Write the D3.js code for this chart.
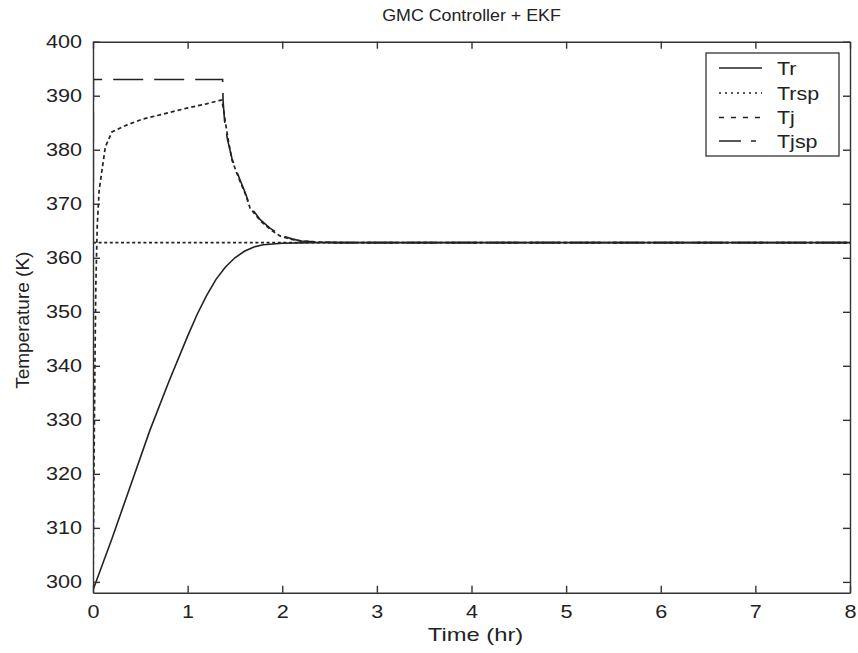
<!DOCTYPE html>
<html>
<head>
<meta charset="utf-8">
<script src="https://cdn.jsdelivr.net/npm/d3@7"></script>
<style>
  html, body { margin: 0; padding: 0; background: #fff; }
  svg { display: block; }
  text { font-family: "Liberation Sans", Arial, sans-serif; fill: #222; }
</style>
</head>
<body>
<svg id="chart" width="858" height="653"></svg>
<script>
// ---------------- data ----------------
const title = "GMC Controller + EKF";
const xLabel = "Time  (hr)";
const yLabel = "Temperature (K)";
const xTicks = [0, 1, 2, 3, 4, 5, 6, 7, 8];
const yTicks = [300, 310, 320, 330, 340, 350, 360, 370, 380, 390, 400];
const seriesNames = ["Tr", "Trsp", "Tj", "Tjsp"];

// Tr : reactor temperature
const trTime = [0, 0.2, 0.4, 0.6, 0.8, 1.0, 1.1, 1.2, 1.3, 1.4, 1.5, 1.6, 1.7, 1.8, 2.0, 2.3, 8];
const trVal  = [298.5, 308, 318, 328, 337, 345.5, 349.5, 353, 356, 358.3, 360, 361.2, 362, 362.4, 362.7, 362.8, 362.8];

// Trsp : reactor temperature set point
const trspTime = [0, 8];
const trspVal  = [362.8, 362.8];

// Tj : jacket temperature
const tjTime = [0, 0.01, 0.02, 0.03, 0.045, 0.065, 0.095, 0.13, 0.2, 0.36, 0.53, 0.74, 0.99, 1.2, 1.33, 1.36,
                1.38, 1.40, 1.43, 1.47, 1.55, 1.61, 1.66, 1.77, 1.87, 1.98, 2.1, 2.2, 2.4, 2.6, 8];
const tjVal  = [298, 320, 340, 355, 366, 372.5, 376.2, 380.5, 383.3, 384.6, 385.7, 386.6, 387.7, 388.5, 389.1, 389.2,
                387.5, 385, 381.7, 378, 374.3, 371.8, 369.2, 366.8, 365.3, 364, 363.4, 363.1, 362.9, 362.8, 362.8];

// Tjsp : jacket temperature set point
const tjspTime = [0, 0.004, 1.37, 1.375, 1.39, 1.42, 1.47, 1.55, 1.61, 1.66, 1.77, 1.87, 1.98, 2.1, 2.2, 2.4, 2.6, 8];
const tjspVal  = [298, 393, 393, 389, 385.4, 382, 378.3, 374.6, 372, 369.5, 367, 365.5, 364.2, 363.5, 363.1, 362.9, 362.8, 362.8];

// ---------------- layout ----------------
const svg = d3.select("#chart");
const L = 93, R = 850, T = 41.7, B = 592.7;
const x = d3.scaleLinear().domain([0, 8]).range([L, R]);
const y = d3.scaleLinear().domain([298, 400]).range([B, T]);
const SX = 1.2; // horizontal stretch of the scanned lettering

const styles = {
  Tr:   { dash: null,      width: 1.6 },
  Trsp: { dash: "3,2.6",   width: 1.7 },
  Tj:   { dash: "4,3",     width: 1.7 },
  Tjsp: { dash: "30,11",   width: 1.6 }
};
const legendDash = { Tr: null, Trsp: "2,4", Tj: "5,7", Tjsp: "22,10,5,10" };
const lineColor = "#222";

// clip
svg.append("defs").append("clipPath").attr("id", "clip")
  .append("rect").attr("x", L).attr("y", T).attr("width", R - L).attr("height", B - T);

const line = d3.line().x(d => x(d[0])).y(d => y(d[1]));
const series = [
  { name: "Trsp", t: trspTime, v: trspVal },
  { name: "Tjsp", t: tjspTime, v: tjspVal },
  { name: "Tj",   t: tjTime,   v: tjVal },
  { name: "Tr",   t: trTime,   v: trVal }
];
const g = svg.append("g").attr("clip-path", "url(#clip)");
series.forEach(s => {
  const pts = s.t.map((tt, i) => [tt, s.v[i]]);
  g.append("path")
    .attr("d", line(pts))
    .attr("fill", "none")
    .attr("stroke", lineColor)
    .attr("stroke-width", styles[s.name].width)
    .attr("stroke-dasharray", styles[s.name].dash);
});

// axes (MATLAB style: inward ticks, box)
const fontSize = 18;
const axL = svg.append("g").attr("transform", `translate(${L},0)`)
  .call(d3.axisLeft(y).tickValues(yTicks).tickSizeInner(-7).tickSizeOuter(0).tickPadding(11));
const axR = svg.append("g").attr("transform", `translate(${R},0)`)
  .call(d3.axisRight(y).tickValues(yTicks).tickSizeInner(-7).tickSizeOuter(0).tickFormat(""));
const axB = svg.append("g").attr("transform", `translate(0,${B})`)
  .call(d3.axisBottom(x).tickValues(xTicks).tickSizeInner(-7).tickSizeOuter(0).tickPadding(13));
const axT = svg.append("g").attr("transform", `translate(0,${T})`)
  .call(d3.axisTop(x).tickValues(xTicks).tickSizeInner(-7).tickSizeOuter(0).tickFormat(""));
[axL, axR, axB, axT].forEach(a => {
  a.select(".domain").attr("stroke", "#333").attr("stroke-width", 1.4);
  a.selectAll(".tick line").attr("stroke", "#333").attr("stroke-width", 1.4);
  a.selectAll(".tick text").attr("font-family", "Liberation Sans, Arial, sans-serif")
    .attr("font-size", fontSize).attr("fill", "#222");
});
axL.selectAll(".tick text").attr("x", 0).attr("transform", `translate(-11,0) scale(${SX},1)`);
axB.selectAll(".tick text").attr("transform", `scale(${SX},1)`);

// title & labels
svg.append("text").attr("transform", `translate(${(L + R) / 2},21) scale(1.08,1)`)
  .attr("text-anchor", "middle").attr("font-size", 16.5).text(title);
svg.append("text").attr("transform", `translate(${(L + R) / 2 + 4},641) scale(1.25,1)`)
  .attr("text-anchor", "middle").attr("font-size", 19).text(xLabel);
svg.append("text").attr("transform", `translate(29,${(T + B) / 2 + 3}) rotate(-90)`)
  .attr("text-anchor", "middle").attr("font-size", 19).text(yLabel);

// legend
const lg = svg.append("g");
const lgX = 706, lgY = 53, lgW = 133, lgH = 103;
lg.append("rect").attr("x", lgX).attr("y", lgY).attr("width", lgW).attr("height", lgH)
  .attr("fill", "#fff").attr("stroke", "#333").attr("stroke-width", 1.3);
const rowY = [68, 93, 117.5, 141];
seriesNames.forEach((n, i) => {
  lg.append("line").attr("x1", 719).attr("x2", 762).attr("y1", rowY[i]).attr("y2", rowY[i])
    .attr("stroke", lineColor).attr("stroke-width", 1.6)
    .attr("stroke-dasharray", legendDash[n]);
  lg.append("text").attr("transform", `translate(777,${rowY[i] + 6.5}) scale(1.13,1)`)
    .attr("font-size", 19).text(n);
});
</script>
</body>
</html>
